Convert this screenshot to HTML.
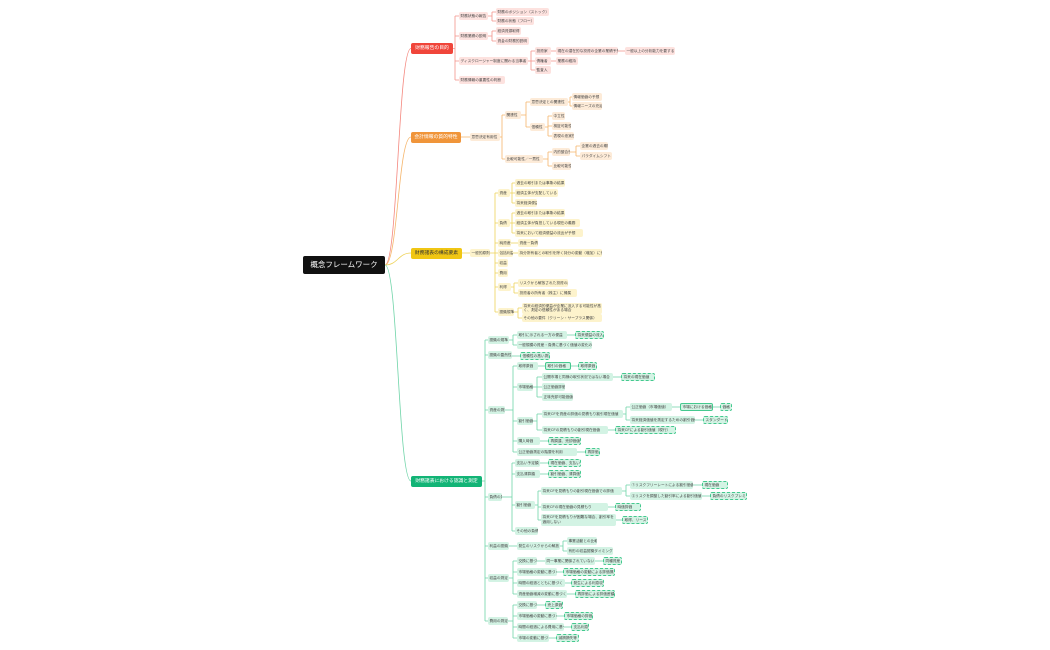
<!DOCTYPE html>
<html><head><meta charset="utf-8"><style>
html,body{margin:0;padding:0;background:#fff;}
#c{position:relative;width:1050px;height:650px;overflow:hidden;font-family:"Liberation Sans","Noto Sans CJK JP",sans-serif;}
svg{position:absolute;left:0;top:0;}
.n{position:absolute;height:8px;line-height:8px;font-size:3.7px;white-space:nowrap;overflow:hidden;border-radius:2px;padding-left:1.5px;box-sizing:border-box;color:#444;}
.r{background:#fde2df;}
.o{background:#fdebd8;}
.y{background:#fdf3cc;}
.g{background:#d3f3e4;}
.gd{background:#d3f3e4;border:0.7px dashed #45c98f;line-height:6.6px;}
.gs{background:#d3f3e4;border:0.7px solid #45c98f;line-height:6.6px;}
.m{height:11px;line-height:11px;font-size:4.8px;color:#fff;text-align:center;padding:0;border-radius:2px;}
</style></head><body><div id="c">
<svg width="1050" height="650" fill="none" stroke-width="0.8">
<path stroke="#f4877e" d="M385 265 C398 265 398 48.5 411 48.5"/>
<path stroke="#f5b56b" d="M385 265 C398 265 398 137 411 137"/>
<path stroke="#eed35a" d="M385 265 C398 265 398 253 411 253"/>
<path stroke="#6fd4a8" d="M385 265 C398 265 398 481 411 481"/>
<path stroke="#f4938b" d="M453 48.5H455M455 16V80M455 16H459M455 36H459M455 61H459M455 80H459
M488 16H492M492 12V21M492 12H496M492 21H496
M488 36H492M492 31V41M492 31H496M492 41H496
M528 61H531M531 51V70M531 51H535M531 61H535M531 70H535
M551 51H556M618 51H625M551 61H556"/>
<path stroke="#f5b56b" d="M461 137H470M500 137H502M502 115V159M502 115H505M502 159H505
M521 115H526M526 102V127M526 102H530M526 127H530
M568 102H570M570 97V106M570 97H572M570 106H572
M545 127H548M548 116V136M548 116H552M548 126H552M548 136H552
M543 159H548M548 152V166M548 152H552M548 166H552
M570 152H576M576 146V156M576 146H580M576 156H580"/>
<path stroke="#eed35a" d="M462 253H470M490 253H495M495 193V312M495 193H498M495 223H498M495 243H498M495 253H498M495 263H498M495 273H498M495 287H498M495 312H498
M510 193H512M512 183V203M512 183H515M512 193H515M512 203H515
M510 223H512M512 213V233M512 213H515M512 223H515M512 233H515
M511 243H518M513 253H518
M511 287H514M514 283V293M514 283H518M514 293H518
M514 312H518M518 308V318M518 308H522M518 318H522"/>
<path stroke="#6fd4a8" d="M482 481H485M485 340V621M485 340H488M485 355H488M485 410H488M485 497H488M485 546H488M485 578H488M485 621H488
M509 340H513M513 335V345M513 335H517M513 345H517M567 335H575M512 356H520
M505 410H513M513 366V452M513 366H517M513 387H517M513 421H517M513 441H517M513 452H517
M538 366H545M571 366H578
M533 387H537M537 377V397M537 377H542M537 387H542M537 397H542M613 377H621
M533 421H537M537 414V430M537 414H542M537 430H542
M623 414H626M626 407V420M626 407H630M626 420H630M672 407H680M713 407H720M695 420H703M608 430H615
M540 441H548M577 452H585
M502 497H512M512 463V531M512 463H515M512 474H515M512 505H515M512 531H515
M540 463H548M540 474H548
M535 505H538M538 491V520M538 491H541M538 507H541M538 520H541
M622 491H626M626 485V496M626 485H630M626 496H630M693 485H702M702 496H710M608 507H615M616 520H622
M509 546H517M560 546H563M563 541V551M563 541H567M563 551H567
M509 578H513M513 561V594M513 561H517M513 572H517M513 583H517M513 594H517
M537 561H545M595 561H603M557 572H563M565 583H571M567 594H575
M508 621H513M513 605V638M513 605H517M513 616H517M513 627H517M513 638H517
M537 605H545M557 616H564M564 627H571M549 638H556"/>
</svg>

<div class="n m" style="left:303px;top:256px;width:82px;height:18px;line-height:18px;font-size:7.5px;background:#111;border-radius:2px;">概念フレームワーク</div>

<!-- RED -->
<div class="n m" style="left:411px;top:43px;width:42px;background:#f0453a;">財務報告の目的</div>
<div class="n r" style="left:459px;top:12px;width:29px">財務状態の報告</div>
<div class="n r" style="left:459px;top:32px;width:29px">財務業績の説明</div>
<div class="n r" style="left:459px;top:57px;width:69px">ディスクロージャー制度に関わる当事者</div>
<div class="n r" style="left:459px;top:76px;width:46px">財務情報の重要性の判断</div>
<div class="n r" style="left:496px;top:8px;width:53px">財務のポジション（ストック）</div>
<div class="n r" style="left:496px;top:17px;width:38px">財務の状態（フロー）</div>
<div class="n r" style="left:496px;top:27px;width:25px">経済資源取得</div>
<div class="n r" style="left:496px;top:37px;width:33px">資金の財務的説明</div>
<div class="n r" style="left:535px;top:47px;width:16px">投資家</div>
<div class="n r" style="left:535px;top:57px;width:16px">債権者</div>
<div class="n r" style="left:535px;top:66px;width:16px">監査人</div>
<div class="n r" style="left:556px;top:47px;width:62px">現在の潜在的な投資の企業の業績予想者</div>
<div class="n r" style="left:625px;top:47px;width:50px">一般以上の分析能力を要する</div>
<div class="n r" style="left:556px;top:57px;width:22px">業務の維持</div>

<!-- ORANGE -->
<div class="n m" style="left:411px;top:131.5px;width:50px;background:#f0953a;">会計情報の質的特性</div>
<div class="n o" style="left:470px;top:133px;width:30px">意思決定有用性</div>
<div class="n o" style="left:505px;top:111px;width:16px">関連性</div>
<div class="n o" style="left:505px;top:155px;width:38px">比較可能性／一貫性</div>
<div class="n o" style="left:530px;top:98px;width:38px">意思決定との関連性</div>
<div class="n o" style="left:530px;top:123px;width:15px">信頼性</div>
<div class="n o" style="left:572px;top:93px;width:30px">情報価値の予想</div>
<div class="n o" style="left:572px;top:102px;width:30px">情報ニーズの充足</div>
<div class="n o" style="left:552px;top:112px;width:13px">中立性</div>
<div class="n o" style="left:552px;top:122px;width:19px">検証可能性</div>
<div class="n o" style="left:552px;top:132px;width:22px">表現の忠実性</div>
<div class="n o" style="left:552px;top:148px;width:18px">内的整合性</div>
<div class="n o" style="left:552px;top:162px;width:19px">比較可能性</div>
<div class="n o" style="left:580px;top:142px;width:28px">企業の過去の期間</div>
<div class="n o" style="left:580px;top:152px;width:32px">パラダイムシフト</div>

<!-- YELLOW -->
<div class="n m" style="left:411px;top:247.5px;width:51px;background:#f0c614;color:#333;">財務諸表の構成要素</div>
<div class="n y" style="left:470px;top:249px;width:20px">一般的原則</div>
<div class="n y" style="left:498px;top:189px;width:12px">資産</div>
<div class="n y" style="left:498px;top:219px;width:12px">負債</div>
<div class="n y" style="left:498px;top:239px;width:13px">純資産</div>
<div class="n y" style="left:498px;top:249px;width:15px">包括利益</div>
<div class="n y" style="left:498px;top:259px;width:10px">収益</div>
<div class="n y" style="left:498px;top:269px;width:10px">費用</div>
<div class="n y" style="left:498px;top:283px;width:13px">利得</div>
<div class="n y" style="left:498px;top:308px;width:16px">認識規準</div>
<div class="n y" style="left:515px;top:179px;width:50px">過去の取引または事象の結果</div>
<div class="n y" style="left:515px;top:189px;width:43px">経済主体が支配している</div>
<div class="n y" style="left:515px;top:199px;width:22px">将来経済便益</div>
<div class="n y" style="left:515px;top:209px;width:50px">過去の取引または事象の結果</div>
<div class="n y" style="left:515px;top:219px;width:65px">経済主体が負担している現在の義務</div>
<div class="n y" style="left:515px;top:229px;width:68px">将来において経済便益の流出が予想</div>
<div class="n y" style="left:518px;top:239px;width:20px">資産－負債</div>
<div class="n y" style="left:518px;top:249px;width:84px">持分所有者との取引を除く持分の変動（増加）に帰属</div>
<div class="n y" style="left:518px;top:279px;width:50px">リスクから解放された投資の成果</div>
<div class="n y" style="left:518px;top:289px;width:59px">投資者の所有者（株主）に帰属</div>
<div class="n y" style="left:522px;top:303px;width:80px;height:11px;line-height:4.6px;white-space:normal;padding-top:0.8px">将来の経済的便益が企業に流入する可能性が高く、測定の信頼性がある場合</div>
<div class="n y" style="left:522px;top:314px;width:80px">その他の要件（クリーン・サープラス関係）</div>

<!-- GREEN -->
<div class="n m" style="left:411px;top:475.5px;width:71px;background:#12b476;">財務諸表における認識と測定</div>
<div class="n g" style="left:488px;top:336px;width:21px">認識の規準</div>
<div class="n g" style="left:488px;top:351px;width:24px">認識の蓋然性</div>
<div class="n g" style="left:488px;top:406px;width:17px">資産の測定</div>
<div class="n g" style="left:488px;top:493px;width:14px">負債の測定</div>
<div class="n g" style="left:488px;top:542px;width:21px">利益の認識</div>
<div class="n g" style="left:488px;top:574px;width:21px">収益の測定</div>
<div class="n g" style="left:488px;top:617px;width:20px">費用の測定</div>

<div class="n g" style="left:517px;top:331px;width:50px">取引に示される一方の便益</div>
<div class="n gd" style="left:575px;top:331px;width:29px">将来便益の流入</div>
<div class="n g" style="left:517px;top:341px;width:75px">一般規模の資産・負債に基づく価値の変化の反映</div>
<div class="n gd" style="left:520px;top:352px;width:30px">信頼性の高い測定</div>

<div class="n g" style="left:517px;top:362px;width:21px">取得原価</div>
<div class="n gs" style="left:545px;top:362px;width:26px">取引の価格</div>
<div class="n gd" style="left:578px;top:362px;width:19px">取得原価</div>
<div class="n g" style="left:517px;top:383px;width:16px">市場価格</div>
<div class="n g" style="left:542px;top:373px;width:71px">公開市場と同様の取引状況ではない場合</div>
<div class="n gd" style="left:621px;top:373px;width:34px">将来の現在価値</div>
<div class="n g" style="left:542px;top:383px;width:23px">公正価値評価</div>
<div class="n g" style="left:542px;top:393px;width:31px">正味売却可能価値</div>
<div class="n g" style="left:517px;top:417px;width:16px">割引価値</div>
<div class="n g" style="left:542px;top:410px;width:81px">将来CFを資産の評価の見積もり割引現在価値</div>
<div class="n g" style="left:542px;top:426px;width:66px">将来CFの見積もりの割引現在価値</div>
<div class="n g" style="left:630px;top:403px;width:42px">公正価値（市場価値）</div>
<div class="n gs" style="left:680px;top:403px;width:33px">市場における価格</div>
<div class="n gd" style="left:720px;top:403px;width:12px">価格</div>
<div class="n g" style="left:630px;top:416px;width:65px">将来経済価値を測定するための割引価値</div>
<div class="n gd" style="left:703px;top:416px;width:25px">スタンダード</div>
<div class="n gd" style="left:615px;top:426px;width:61px">将来CFによる割引価値（現行）</div>
<div class="n g" style="left:517px;top:437px;width:23px">購入時価</div>
<div class="n gd" style="left:548px;top:437px;width:33px">再調達、売却価値</div>
<div class="n g" style="left:517px;top:448px;width:60px">公正価値測定の階層を利用</div>
<div class="n gd" style="left:585px;top:448px;width:15px">再評価</div>

<div class="n g" style="left:515px;top:459px;width:25px">支払い予定額</div>
<div class="n gd" style="left:548px;top:459px;width:33px">現在価値、支払い額</div>
<div class="n g" style="left:515px;top:470px;width:25px">支払清算額</div>
<div class="n gd" style="left:548px;top:470px;width:33px">割引価値、清算価値</div>
<div class="n g" style="left:515px;top:501px;width:20px">割引価値</div>
<div class="n g" style="left:541px;top:487px;width:81px">将来CFを見積もりの割引現在価値での評価</div>
<div class="n g" style="left:541px;top:503px;width:67px">将来CFの現在価値の見積もり</div>
<div class="n g" style="left:541px;top:514px;width:75px;height:12px;line-height:4.6px;white-space:normal;padding-top:1.2px">将来CFを見積もりが困難な場合、割引率を適用しない</div>
<div class="n g" style="left:630px;top:481px;width:63px">①リスクフリーレートによる割引価値</div>
<div class="n gd" style="left:702px;top:481px;width:26px">現在価値</div>
<div class="n g" style="left:630px;top:492px;width:72px">②リスクを調整した割引率による割引価値</div>
<div class="n gd" style="left:710px;top:492px;width:37px">負債のリスクプレミアム</div>
<div class="n gd" style="left:615px;top:503px;width:26px">時価評価</div>
<div class="n gd" style="left:622px;top:516px;width:26px">取得、リース</div>
<div class="n g" style="left:515px;top:527px;width:23px">その他の負債</div>

<div class="n g" style="left:517px;top:542px;width:43px">発生のリスクからの解放</div>
<div class="n g" style="left:567px;top:537px;width:30px">事業活動との比較</div>
<div class="n g" style="left:567px;top:547px;width:46px">有形の収益認識タイミング</div>

<div class="n g" style="left:517px;top:557px;width:20px">交換に基づく</div>
<div class="n g" style="left:545px;top:557px;width:50px">同一事業に関係されていない</div>
<div class="n gd" style="left:603px;top:557px;width:19px">同種資産</div>
<div class="n g" style="left:517px;top:568px;width:40px">市場価格の変動に基づく</div>
<div class="n gd" style="left:563px;top:568px;width:52px">市場価格の変動による評価損益</div>
<div class="n g" style="left:517px;top:579px;width:48px">時間の経過とともに基づく</div>
<div class="n gd" style="left:571px;top:579px;width:33px">発生による利息収益</div>
<div class="n g" style="left:517px;top:590px;width:50px">資産価値増減の変動に基づく</div>
<div class="n gd" style="left:575px;top:590px;width:40px">再評価による評価差額</div>

<div class="n g" style="left:517px;top:601px;width:20px">交換に基づく</div>
<div class="n gd" style="left:545px;top:601px;width:18px">売上原価</div>
<div class="n g" style="left:517px;top:612px;width:40px">市場価格の変動に基づく</div>
<div class="n gd" style="left:564px;top:612px;width:29px">市場価格の評価損</div>
<div class="n g" style="left:517px;top:623px;width:47px">時間の経過による費用に基づく</div>
<div class="n gd" style="left:571px;top:623px;width:18px">支払利息</div>
<div class="n g" style="left:517px;top:634px;width:32px">市場の変動に基づく</div>
<div class="n gd" style="left:556px;top:634px;width:23px">減損損失等</div>
</div></body></html>
